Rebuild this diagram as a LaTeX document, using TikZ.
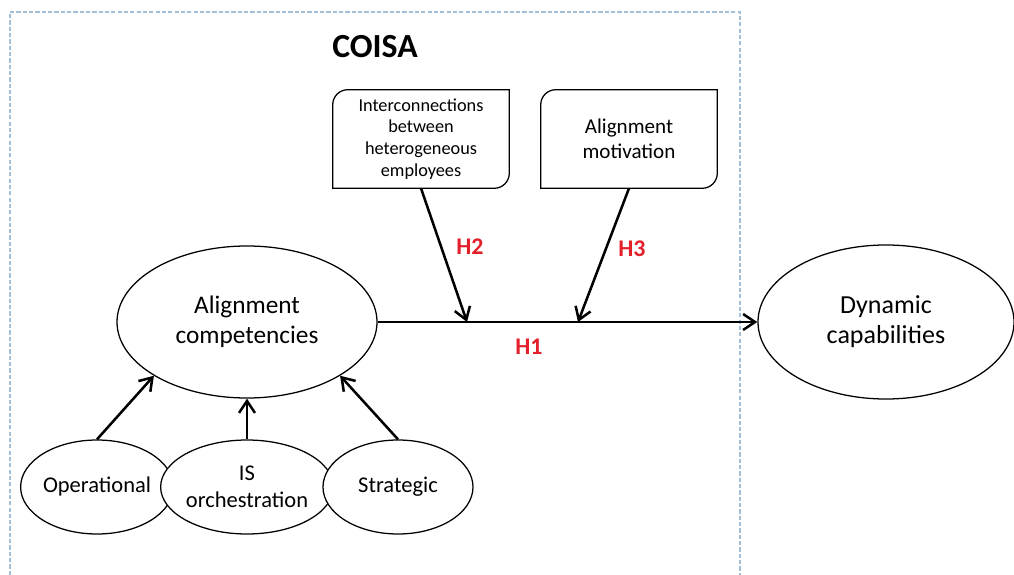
\documentclass[tikz,border=0pt]{standalone}
\usepackage{fontspec}
\setmainfont{Carlito}
\usepackage{tikz}
\usetikzlibrary{shapes, positioning, arrows.meta}
\definecolor{framegray}{HTML}{A3C0DA}
\definecolor{hred}{HTML}{E3202A}

\begin{document}
\begin{tikzpicture}[x=0.25mm, y=-0.25mm]
\tikzstyle{concept}=[ellipse, draw, line width=0.9pt, fill=white, align=center, inner sep=0]
\tikzstyle{factor}=[draw=none, align=center, inner sep=0, minimum width=44mm, minimum height=24.5mm]
\tikzstyle{hyp}=[text=hred, font=\fontsize{17}{20}\selectfont\bfseries]
\tikzstyle{link}=[line width=1.8pt, -{Straight Barb[length=3mm, width=4mm]}]

\useasboundingbox (0,0) rectangle (1014,575);
\draw[framegray, line width=1.2pt, dash pattern=on 3pt off 1.5pt] (10,575) -- (10,12) -- (740,12) -- (740,575);

\node[font=\fontsize{24}{28}\selectfont\bfseries] (coisa) at (375,47) {COISA};

\node[concept, minimum width=65mm, minimum height=38mm, font=\fontsize{18}{21}\selectfont] (ac) at (247,322) {Alignment\\competencies};
\node[concept, minimum width=64mm, minimum height=38.5mm, font=\fontsize{18.5}{21.5}\selectfont] (dc) at (886,322) {Dynamic\\capabilities};

\node[concept, minimum width=37.5mm, minimum height=23.5mm, font=\fontsize{16}{19}\selectfont] (op) at (97,487) {Operational};
\node[concept, minimum width=37.5mm, minimum height=23.5mm, font=\fontsize{16}{19}\selectfont] (is) at (247,487) {IS\\orchestration};
\node[concept, minimum width=37.5mm, minimum height=23.5mm, font=\fontsize{16}{19}\selectfont] (st) at (398,487) {Strategic};

\node[factor, font=\fontsize{13}{15.5}\selectfont] (inter) at (421,139) {Interconnections\\between\\heterogeneous\\employees};
\node[factor, font=\fontsize{15}{18}\selectfont] (motiv) at (629,139) {Alignment\\motivation};

%round diagonal boxes
\draw[line width=0.9pt] (inter.south west) -- ([yshift=-3.75mm]inter.north west) arc[start angle=180, end angle=90, radius=3.75mm] -- (inter.north east) -- ([yshift=3.75mm]inter.south east) arc[start angle=0, end angle=-90, radius=3.75mm] -- cycle;
\draw[line width=0.9pt] (motiv.south west) -- ([yshift=-3.75mm]motiv.north west) arc[start angle=180, end angle=90, radius=3.75mm] -- (motiv.north east) -- ([yshift=3.75mm]motiv.south east) arc[start angle=0, end angle=-90, radius=3.75mm] -- cycle;

\coordinate (h2end) at (467,322);
\coordinate (h3end) at (578,322);

\path [link] (ac.east) edge (dc.west);
\path [link] (inter.south) edge (h2end);
\path [link] (motiv.south) edge (h3end);
\path [link] (op.north) edge (ac.210);
\path [link] (is.north) edge (ac.south);
\path [link] (st.north) edge (ac.330);

\node[hyp] (h1) at (529,347) {H1};
\node[hyp] (h2) at (470,247) {H2};
\node[hyp] (h3) at (632,249) {H3};

\end{tikzpicture}
\end{document}
